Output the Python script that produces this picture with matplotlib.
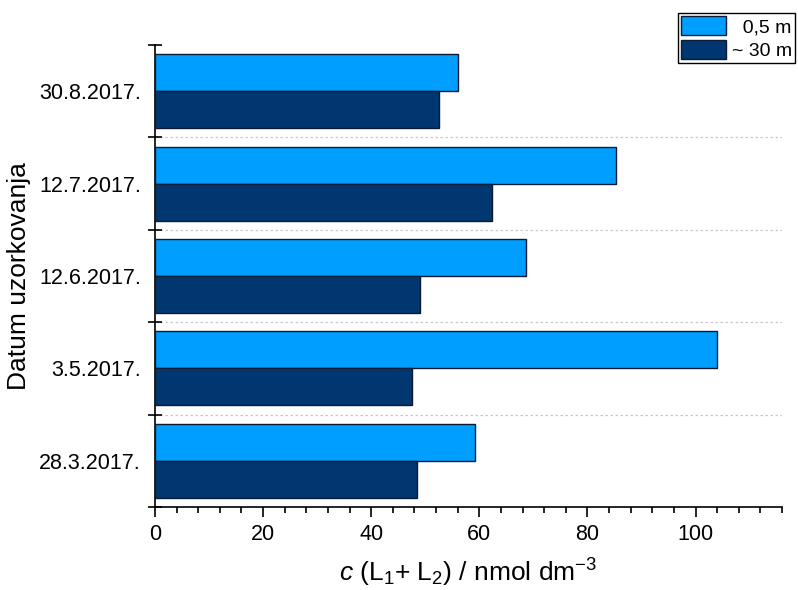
import matplotlib
matplotlib.use("Agg")
import matplotlib.pyplot as plt
from matplotlib.ticker import MultipleLocator

plt.rcParams["font.family"] = ["Liberation Sans", "DejaVu Sans"]
plt.rcParams["mathtext.fontset"] = "custom"
plt.rcParams["mathtext.rm"] = "Liberation Sans"
plt.rcParams["mathtext.it"] = "Liberation Sans:italic"

# sampling dates, bottom to top
dates = ["28.3.2017.", "3.5.2017.", "12.6.2017.", "12.7.2017.", "30.8.2017."]
surface = [59.2, 103.9, 68.7, 85.2, 56.0]   # 0,5 m
deep = [48.5, 47.6, 49.0, 62.3, 52.6]       # ~ 30 m
series_labels = ["  0,5 m", "~ 30 m"]

light = "#009FFF"
dark = "#003770"
edge = "#0d1a33"

fig = plt.figure(figsize=(7.98, 5.90), dpi=100)
ax = fig.add_axes([0.1942, 0.1407, 0.7858, 0.7830])

ys = list(range(len(dates)))
h = 0.4
ax.barh([y + h / 2 for y in ys], surface, height=h, color=light,
        edgecolor=edge, linewidth=1.0, label=series_labels[0], zorder=3)
ax.barh([y - h / 2 for y in ys], deep, height=h, color=dark,
        edgecolor=edge, linewidth=1.0, label=series_labels[1], zorder=3)

# dotted separators between groups
for y in ys[:-1]:
    ax.axhline(y + 0.5, color="#c8c8c8", linestyle=(0, (2, 2)), linewidth=0.9, zorder=1)

ax.set_xlim(0, 116)
ax.set_ylim(-0.5, len(dates) - 0.5)

ax.xaxis.set_major_locator(MultipleLocator(20))
ax.xaxis.set_minor_locator(MultipleLocator(4))
ax.tick_params(axis="x", which="major", direction="out", length=7, width=1.2,
               labelsize=15.5, pad=5)
ax.tick_params(axis="x", which="minor", direction="out", length=4, width=1.2)

ax.set_yticks(ys)
ax.set_yticklabels(dates)
ax.set_yticks([y - 0.5 for y in ys] + [ys[-1] + 0.5], minor=True)
ax.tick_params(axis="y", which="major", length=0, labelsize=15.5, pad=10)
ax.tick_params(axis="y", which="minor", direction="inout", length=10, width=1.2)

for side in ("top", "right"):
    ax.spines[side].set_visible(False)
ax.spines["left"].set_linewidth(1.2)
ax.spines["bottom"].set_linewidth(1.2)

ax.set_ylabel("Datum uzorkovanja", fontsize=19, labelpad=6)
ax.set_xlabel("$c$ (L$_1$+ L$_2$) / nmol dm$^{-3}$", fontsize=19, labelpad=9)

fig.legend(loc="upper left", bbox_to_anchor=(678 / 798, 1 - 13 / 590),
           bbox_transform=fig.transFigure, fontsize=14, frameon=True,
           fancybox=False, edgecolor="black", framealpha=1,
           handlelength=2.3, handleheight=1.13, labelspacing=0.2,
           handletextpad=0.35, borderpad=0.15, borderaxespad=0)

fig.savefig("out.png", dpi=100)
